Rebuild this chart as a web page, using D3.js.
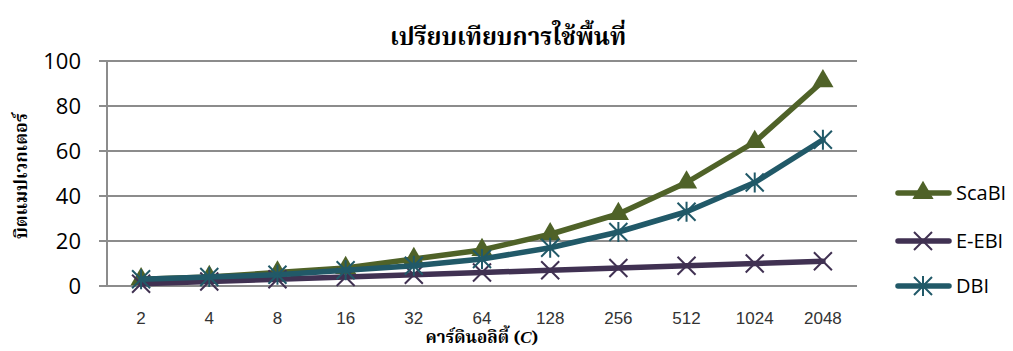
<!DOCTYPE html>
<html>
<head>
<meta charset="utf-8">
<script src="https://cdn.jsdelivr.net/npm/d3@7"></script>
<style>
  body { margin: 0; background: #fff; }
  svg { display: block; }
</style>
</head>
<body>
<div id="chart"></div>
<script>
// Chart data
const categories = ["2", "4", "8", "16", "32", "64", "128", "256", "512", "1024", "2048"];
const scaBI = [3, 4, 6, 8, 12, 16, 23, 32, 46, 64, 91];
const eEBI = [1, 2, 3, 4, 5, 6, 7, 8, 9, 10, 11];
const dBI = [3, 4, 5, 7, 9, 12, 17, 24, 33, 46, 65];
const yTicks = [0, 20, 40, 60, 80, 100];

const seriesList = [
    { name: "ScaBI", values: scaBI, color: "#4f6228", marker: "triangle" },
    { name: "E-EBI", values: eEBI, color: "#403152", marker: "x" },
    { name: "DBI", values: dBI, color: "#215968", marker: "star" }
];

const width = 1013, height = 351;
const plot = { left: 107, right: 857, top: 61, bottom: 286 };

const svg = d3.select("#chart").append("svg")
    .attr("width", width)
    .attr("height", height);

// Scales
const x = d3.scaleBand()
    .domain(categories)
    .range([plot.left, plot.right]);

const y = d3.scaleLinear()
    .domain([0, 100])
    .range([plot.bottom, plot.top]);

const cx = d => x(d) + x.bandwidth() / 2;

// Gridlines
svg.append("g")
    .selectAll("line")
    .data(yTicks)
    .join("line")
    .attr("x1", plot.left - 8)
    .attr("x2", plot.right)
    .attr("y1", d => y(d))
    .attr("y2", d => y(d))
    .attr("stroke", "#8c8c8c")
    .attr("stroke-width", 2);

// Left axis line
svg.append("line")
    .attr("x1", plot.left).attr("x2", plot.left)
    .attr("y1", plot.top).attr("y2", plot.bottom)
    .attr("stroke", "#8c8c8c")
    .attr("stroke-width", 2);

// Y tick labels
svg.append("g")
    .selectAll("text")
    .data(yTicks)
    .join("text")
    .attr("x", 81)
    .attr("y", d => y(d))
    .attr("dy", "0.36em")
    .attr("text-anchor", "end")
    .style("font-family", "'Open Sans', 'Noto Sans', sans-serif")
    .style("font-size", "22px")
    .style("fill", "#000")
    .text(d => d);

// X tick labels
svg.append("g")
    .selectAll("text")
    .data(categories)
    .join("text")
    .attr("x", d => cx(d))
    .attr("y", 324)
    .attr("text-anchor", "middle")
    .style("font-family", "'Liberation Sans', Arial, sans-serif")
    .style("font-size", "17px")
    .style("fill", "#333")
    .text(d => d);

// Marker drawing
function drawMarker(g, type, color, size) {
    const s = size / 2;
    if (type === "triangle") {
        g.append("path")
            .attr("d", d3.symbol().type(d3.symbolTriangle).size(size * size * 0.6)())
            .attr("fill", color);
    } else if (type === "x") {
        g.append("path")
            .attr("d", `M${-s},${-s}L${s},${s}M${-s},${s}L${s},${-s}`)
            .attr("stroke", color)
            .attr("stroke-width", 2)
            .attr("fill", "none");
    } else {
        g.append("path")
            .attr("d", `M${-s},${-s}L${s},${s}M${-s},${s}L${s},${-s}M0,${-s - 1}L0,${s + 1}`)
            .attr("stroke", color)
            .attr("stroke-width", 2)
            .attr("fill", "none");
    }
}

const line = d3.line()
    .x((d, i) => cx(categories[i]))
    .y(d => y(d));

// Series lines and markers
seriesList.forEach(s => {
    svg.append("path")
        .datum(s.values)
        .attr("d", line)
        .attr("fill", "none")
        .attr("stroke", s.color)
        .attr("stroke-width", 5.5)
        .attr("stroke-linejoin", "round")
        .attr("stroke-linecap", "round");

    s.values.forEach((v, i) => {
        const g = svg.append("g")
            .attr("transform", `translate(${cx(categories[i])},${y(v)})`);
        drawMarker(g, s.marker, s.color, 18);
    });
});

// Legend
const legendY = [193, 241, 286];
seriesList.forEach((s, i) => {
    const g = svg.append("g").attr("transform", `translate(0,${legendY[i]})`);
    g.append("line")
        .attr("x1", 898).attr("x2", 949)
        .attr("y1", 0).attr("y2", 0)
        .attr("stroke", s.color)
        .attr("stroke-width", 5.5)
        .attr("stroke-linecap", "round");
    const m = g.append("g").attr("transform", "translate(923,0)");
    drawMarker(m, s.marker, s.color, 18);
    g.append("text")
        .attr("x", 956)
        .attr("y", 0)
        .attr("dy", "0.35em")
        .style("font-family", "'Open Sans', 'Noto Sans', sans-serif")
        .style("font-size", "20px")
        .style("fill", "#000")
        .text(s.name);
});

// Title
svg.append("text")
    .attr("x", 508)
    .attr("y", 45)
    .attr("text-anchor", "middle")
    .style("font-family", "'Noto Serif Thai', 'Noto Sans Thai', serif")
    .style("font-weight", "bold")
    .style("font-size", "24px")
    .style("fill", "#000")
    .text("เปรียบเทียบการใช้พื้นที่");

// Y axis title
svg.append("text")
    .attr("transform", "translate(27,176) rotate(-90)")
    .attr("text-anchor", "middle")
    .style("font-family", "'Noto Serif Thai', 'Noto Sans Thai', serif")
    .style("font-weight", "bold")
    .style("font-size", "18px")
    .style("fill", "#000")
    .text("บิตแมปเวกเตอร์");

// X axis title
const xt = svg.append("text")
    .attr("x", 482)
    .attr("y", 343)
    .attr("text-anchor", "middle")
    .style("font-family", "'Noto Serif Thai', 'Noto Sans Thai', serif")
    .style("font-weight", "bold")
    .style("font-size", "17px")
    .style("fill", "#000");
xt.append("tspan").text("คาร์ดินอลิตี้ (");
xt.append("tspan").style("font-style", "italic").style("font-family", "'Liberation Serif', serif").text("C");
xt.append("tspan").text(")");
</script>
</body>
</html>
